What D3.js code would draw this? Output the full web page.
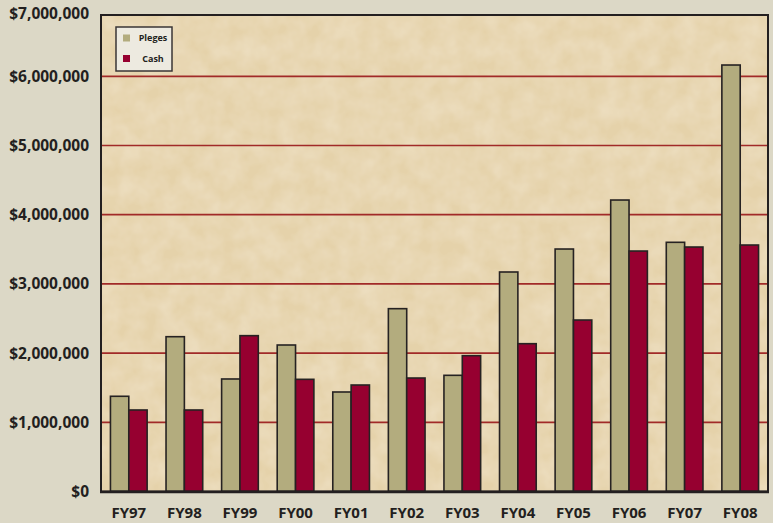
<!DOCTYPE html>
<html>
<head>
<meta charset="utf-8">
<script src="https://cdn.jsdelivr.net/npm/d3@7"></script>
<style>
  body { margin: 0; background: #dcd8c6; }
  svg { display: block; }
  text { font-family: "Open Sans", sans-serif; font-weight: 700; fill: #231f20; }
</style>
</head>
<body>
<div id="chart"></div>
<script>
// fiscal years
var years = ["FY97","FY98","FY99","FY00","FY01","FY02","FY03","FY04","FY05","FY06","FY07","FY08"];
// pledges and cash received, dollars
var pleges = [1376000, 2237000, 1626000, 2117000, 1438000, 2642000, 1679000, 3172000, 3504000, 4212000, 3601000, 6163000];
var cash   = [1178000, 1178000, 2252000, 1621000, 1539000, 1640000, 1963000, 2136000, 2478000, 3475000, 3533000, 3562000];
var seriesNames = ["Pleges", "Cash"];
var yTicks = [0, 1000000, 2000000, 3000000, 4000000, 5000000, 6000000, 7000000];

(function() {
	var W = 773, H = 523;
	var frame = { left: 101, right: 768, top: 15, bottom: 491.5 };
	var colors = ["#b3ac7e", "#960030"];

	var svg = d3.select("#chart").append("svg")
		.attr("width", W).attr("height", H);

	var defs = svg.append("defs");
	// faint parchment texture
	var f = defs.append("filter").attr("id", "paper")
		.attr("x", 0).attr("y", 0).attr("width", 1).attr("height", 1);
	f.append("feTurbulence").attr("type", "fractalNoise")
		.attr("baseFrequency", "0.05").attr("numOctaves", 3).attr("seed", 7).attr("result", "n");
	f.append("feColorMatrix").attr("in", "n").attr("type", "matrix")
		.attr("values", "0 0 0 0 0.95  0 0 0 0 0.88  0 0 0 0 0.74  0 0 0 0.5 -0.12")
		.attr("result", "c");
	f.append("feComposite").attr("in", "c").attr("in2", "SourceGraphic").attr("operator", "over");

	var x = d3.scaleBand()
		.domain(years)
		.range([frame.left, frame.right])
		.paddingInner(0.34)
		.paddingOuter(0.17);

	var xs = d3.scaleBand()
		.domain(seriesNames)
		.range([0, x.bandwidth()]);

	var y = d3.scaleLinear()
		.domain([0, 7000000])
		.range([frame.bottom, 7.1]);

	// plot background
	svg.append("rect")
		.attr("x", frame.left).attr("y", frame.top)
		.attr("width", frame.right - frame.left).attr("height", frame.bottom - frame.top)
		.attr("fill", "#e5d2aa")
		.attr("filter", "url(#paper)");

	// gridlines
	svg.append("g").selectAll("line")
		.data(yTicks.filter(function(d) { return d > 0 && y(d) > frame.top; }))
		.enter().append("line")
		.attr("x1", frame.left).attr("x2", frame.right)
		.attr("y1", function(d) { return y(d); })
		.attr("y2", function(d) { return y(d); })
		.attr("stroke", "#a12a28")
		.attr("stroke-width", 1.7);

	// bars
	var rows = years.map(function(yr, i) { return { year: yr, vals: [pleges[i], cash[i]] }; });
	var groups = svg.append("g").selectAll("g")
		.data(rows)
		.enter().append("g")
		.attr("transform", function(d) { return "translate(" + x(d.year) + ",0)"; });

	groups.selectAll("rect")
		.data(function(d) { return d.vals.map(function(v, k) { return { name: seriesNames[k], v: v, k: k }; }); })
		.enter().append("rect")
		.attr("x", function(d) { return xs(d.name); })
		.attr("y", function(d) { return y(d.v); })
		.attr("width", xs.bandwidth())
		.attr("height", function(d) { return frame.bottom - y(d.v); })
		.attr("fill", function(d) { return colors[d.k]; })
		.attr("stroke", "#262222")
		.attr("stroke-width", 1.6);

	// frame
	var fr = svg.append("g").attr("stroke", "#231f20").attr("fill", "none");
	fr.append("rect")
		.attr("x", frame.left).attr("y", frame.top)
		.attr("width", frame.right - frame.left).attr("height", frame.bottom - frame.top)
		.attr("stroke-width", 2);
	fr.append("line")
		.attr("x1", frame.left - 1).attr("x2", frame.right + 1)
		.attr("y1", frame.bottom + 0.5).attr("y2", frame.bottom + 0.5)
		.attr("stroke-width", 2.5);

	// y labels
	svg.append("g").selectAll("text")
		.data(yTicks)
		.enter().append("text")
		.attr("x", 89)
		.attr("y", function(d) { return Math.max(y(d), frame.top - 2); })
		.attr("dy", "0.36em")
		.attr("text-anchor", "end")
		.style("font-size", "15.5px")
		.text(function(d) { return "$" + d3.format(",")(d); });

	// x labels
	svg.append("g").selectAll("text")
		.data(years)
		.enter().append("text")
		.attr("x", function(d) { return x(d) + x.bandwidth() / 2; })
		.attr("y", 512.5)
		.attr("dy", "0.36em")
		.attr("text-anchor", "middle")
		.style("font-size", "15px")
		.text(function(d) { return d; });

	// legend
	var lg = svg.append("g").attr("transform", "translate(116,27)");
	lg.append("rect")
		.attr("width", 56).attr("height", 44)
		.attr("fill", "#edeae0")
		.attr("stroke", "#3a3636").attr("stroke-width", 1.5);
	var items = lg.selectAll("g.item")
		.data(seriesNames)
		.enter().append("g")
		.attr("class", "item")
		.attr("transform", function(d, i) { return "translate(0," + (11 + i * 20.5) + ")"; });
	items.append("rect")
		.attr("x", 7).attr("y", -3.5)
		.attr("width", 7).attr("height", 7)
		.attr("fill", function(d, i) { return colors[i]; });
	items.append("text")
		.attr("x", 37).attr("dy", "0.35em")
		.attr("text-anchor", "middle")
		.style("font-size", "9px")
		.text(function(d) { return d; });
})();
</script>
</body>
</html>
